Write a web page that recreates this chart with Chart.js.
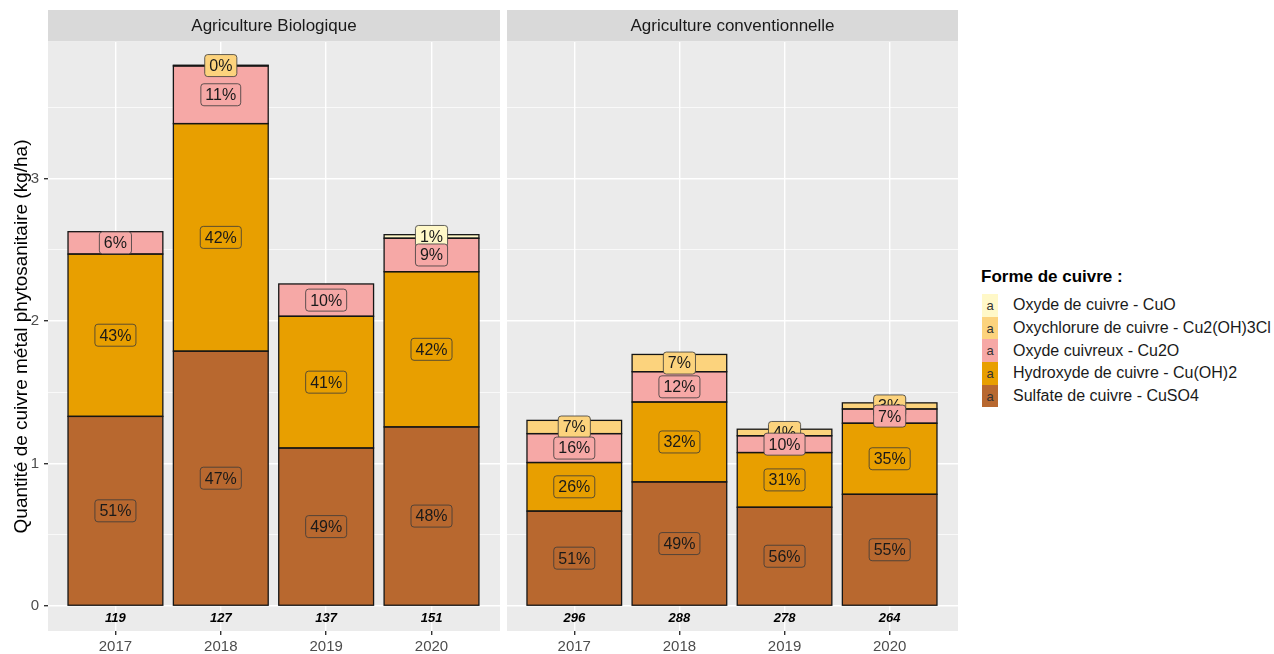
<!DOCTYPE html>
<html><head><meta charset="utf-8">
<script src="https://cdn.jsdelivr.net/npm/chart.js@4.4.1/dist/chart.umd.min.js"></script>
<style>
html,body{margin:0;padding:0;background:#fff;width:1274px;height:654px;overflow:hidden;font-family:"Liberation Sans",Arial,sans-serif;}
#wrap{position:relative;width:1274px;height:654px;}
#cA{position:absolute;left:0;top:0;width:503px;height:654px;}
#cB{position:absolute;left:503px;top:0;width:460px;height:654px;}
#legend{position:absolute;left:981px;top:267px;color:#1a1a1a;}
#legend .lt{font-weight:bold;font-size:17px;line-height:20px;height:20px;margin-bottom:7px;color:#000;}
#legend .row{display:flex;align-items:center;height:22.7px;}
#legend .key{width:16px;height:22.7px;display:flex;align-items:center;justify-content:center;font-size:13px;color:#333;margin-left:1px;}
#legend .txt{font-size:16px;margin-left:15px;white-space:nowrap;}
</style></head>
<body>
<div id="wrap">
<canvas id="cA" width="503" height="654"></canvas>
<canvas id="cB" width="460" height="654"></canvas>
<div id="legend"></div>
</div>
<script>
// ---- data ----
const years = ['2017', '2018', '2019', '2020'];
const panelTitles = ['Agriculture Biologique', 'Agriculture conventionnelle'];
const seriesNames = ['Sulfate de cuivre - CuSO4', 'Hydroxyde de cuivre - Cu(OH)2', 'Oxyde cuivreux - Cu2O', 'Oxychlorure de cuivre - Cu2(OH)3Cl', 'Oxyde de cuivre - CuO'];
const yTickValues = [0, 0.5, 1, 1.5, 2, 2.5, 3, 3.5];

const sulfateBio = [1.331, 1.789, 1.109, 1.257];
const hydroxBio  = [1.140, 1.598, 0.925, 1.090];
const cu2oBio    = [0.157, 0.405, 0.227, 0.235];
const oxychlBio  = [null, 0.005, null, null];
const cuoBio     = [null, null, null, 0.025];
const nBio       = [119, 127, 137, 151];

const sulfateConv = [0.666, 0.871, 0.693, 0.784];
const hydroxConv  = [0.341, 0.561, 0.384, 0.499];
const cu2oConv    = [0.203, 0.213, 0.118, 0.100];
const oxychlConv  = [0.093, 0.121, 0.046, 0.043];
const cuoConv     = [null, null, null, null];
const nConv       = [296, 288, 278, 264];

// ---- styles ----
const seriesColors = ['#B8682F', '#E89F00', '#F6A8A6', '#FCD37D', '#FFF8C8'];
const FONT = '"Liberation Sans", Arial, sans-serif';
Chart.defaults.font.family = FONT;

const panelPlugin = {
  id: 'panelPlugin',
  beforeDraw(chart) {
    const {ctx, chartArea: a} = chart;
    ctx.save();
    ctx.fillStyle = '#EBEBEB';
    ctx.fillRect(a.left, a.top, a.right - a.left, a.bottom - a.top);
    ctx.fillStyle = '#D9D9D9';
    ctx.fillRect(a.left, 10, a.right - a.left, 31.5);
    ctx.fillStyle = '#1A1A1A';
    ctx.font = '17px ' + FONT;
    ctx.textAlign = 'center';
    ctx.textBaseline = 'middle';
    ctx.fillText(chart.options.plugins.panelPlugin.title, (a.left + a.right) / 2, 26);
    ctx.restore();
  },
  afterDatasetsDraw(chart) {
    const ctx = chart.ctx;
    const dsets = chart.data.datasets;
    ctx.save();
    // segment outlines
    ctx.strokeStyle = '#151515';
    ctx.lineWidth = 1.3;
    dsets.forEach((d, k) => {
      chart.getDatasetMeta(k).data.forEach(el => {
        const p = el.getProps(['x', 'y', 'base', 'width'], true);
        ctx.strokeRect(p.x - p.width / 2, Math.min(p.y, p.base), p.width, Math.abs(p.base - p.y));
      });
    });
    const totals = years.map((_, i) => dsets.reduce((s, d) => {
      const p = d.data.find(q => q.x === i + 1); return s + (p ? p.y : 0);
    }, 0));
    ctx.font = '16px ' + FONT;
    ctx.textAlign = 'center';
    ctx.textBaseline = 'middle';
    for (let k = dsets.length - 1; k >= 0; k--) {
      const meta = chart.getDatasetMeta(k);
      meta.data.forEach((el, j) => {
        const pt = dsets[k].data[j];
        const txt = Math.round(pt.y / totals[pt.x - 1] * 100) + '%';
        const cx = el.x, cy = (el.y + el.base) / 2;
        const w = ctx.measureText(txt).width + 9, h = 22, r = 3;
        const x0 = cx - w / 2, y0 = cy - h / 2;
        ctx.beginPath();
        ctx.moveTo(x0 + r, y0);
        ctx.lineTo(x0 + w - r, y0); ctx.quadraticCurveTo(x0 + w, y0, x0 + w, y0 + r);
        ctx.lineTo(x0 + w, y0 + h - r); ctx.quadraticCurveTo(x0 + w, y0 + h, x0 + w - r, y0 + h);
        ctx.lineTo(x0 + r, y0 + h); ctx.quadraticCurveTo(x0, y0 + h, x0, y0 + h - r);
        ctx.lineTo(x0, y0 + r); ctx.quadraticCurveTo(x0, y0, x0 + r, y0);
        ctx.closePath();
        ctx.fillStyle = dsets[k].backgroundColor;
        ctx.fill();
        ctx.lineWidth = 0.8;
        ctx.strokeStyle = '#3a3a3a';
        ctx.stroke();
        ctx.fillStyle = '#1a1a1a';
        ctx.fillText(txt, cx, cy + 1);
      });
    }
    // n labels
    const nVals = chart.options.plugins.panelPlugin.n;
    ctx.font = 'italic bold 13px ' + FONT;
    ctx.fillStyle = '#000';
    const xs = chart.scales.x, ys = chart.scales.y;
    nVals.forEach((n, i) => {
      ctx.fillText(String(n), xs.getPixelForValue(i + 1), ys.getPixelForValue(-0.086));
    });
    ctx.restore();
  }
};

function makeChart(canvasId, title, series, nVals, isLeft) {
  const datasets = series.map((vals, k) => ({
    label: seriesNames[k],
    data: vals.map((v, i) => v == null ? null : {x: i + 1, y: v}).filter(Boolean),
    backgroundColor: seriesColors[k],
    borderWidth: 0,
    barPercentage: 0.9,
    categoryPercentage: 1.0
  }));
  return new Chart(document.getElementById(canvasId), {
    type: 'bar',
    data: {datasets},
    options: {
      responsive: false,
      animation: false,
      events: [],
      layout: {padding: {top: 42, left: isLeft ? 0 : 4, right: isLeft ? 3 : 5, bottom: 0}},
      plugins: {legend: {display: false}, tooltip: {enabled: false}, panelPlugin: {title, n: nVals}},
      scales: {
        x: {
          type: 'linear', stacked: true, min: 0.36, max: 4.65, offset: false,
          afterBuildTicks: s => { s.ticks = years.map((y, i) => ({value: i + 1})); },
          afterFit: s => { s.height = 23; },
          grid: {offset: false, color: '#FFFFFF', lineWidth: 1.4, tickLength: 4, tickColor: '#333333', drawTicks: true},
          border: {display: false},
          ticks: {callback: v => years[v - 1], font: {size: 15}, color: '#4D4D4D', padding: 3, maxRotation: 0, autoSkip: false}
        },
        y: {
          type: 'linear', stacked: true, min: -0.176, max: 3.96,
          afterBuildTicks: s => { s.ticks = yTickValues.map(v => ({value: v})); },
          afterFit: s => { s.width = isLeft ? 48 : 0; },
          grid: {
            color: '#FFFFFF',
            lineWidth: c => (c.tick && c.tick.value % 1 === 0) ? 1.4 : 0.7,
            tickLength: 4,
            tickColor: c => (c.tick && c.tick.value % 1 === 0) ? '#333333' : 'rgba(0,0,0,0)',
            drawTicks: isLeft
          },
          border: {display: false},
          ticks: {display: isLeft, callback: v => (v % 1 === 0 ? String(v) : ''), font: {size: 15}, color: '#4D4D4D', padding: 5, autoSkip: false},
          title: {display: isLeft, text: 'Quantité de cuivre métal phytosanitaire (kg/ha)', font: {size: 19}, color: '#000', padding: {top: 10, bottom: 0}}
        }
      }
    },
    plugins: [panelPlugin]
  });
}

makeChart('cA', panelTitles[0], [sulfateBio, hydroxBio, cu2oBio, oxychlBio, cuoBio], nBio, true);
makeChart('cB', panelTitles[1], [sulfateConv, hydroxConv, cu2oConv, oxychlConv, cuoConv], nConv, false);

// legend (top to bottom: reverse stacking order)
const lg = document.getElementById('legend');
let html = '<div class="lt">Forme de cuivre :</div>';
for (let k = seriesNames.length - 1; k >= 0; k--) {
  html += '<div class="row"><div class="key" style="background:' + seriesColors[k] + '">a</div><div class="txt">' + seriesNames[k] + '</div></div>';
}
lg.innerHTML = html;
</script>
</body></html>
